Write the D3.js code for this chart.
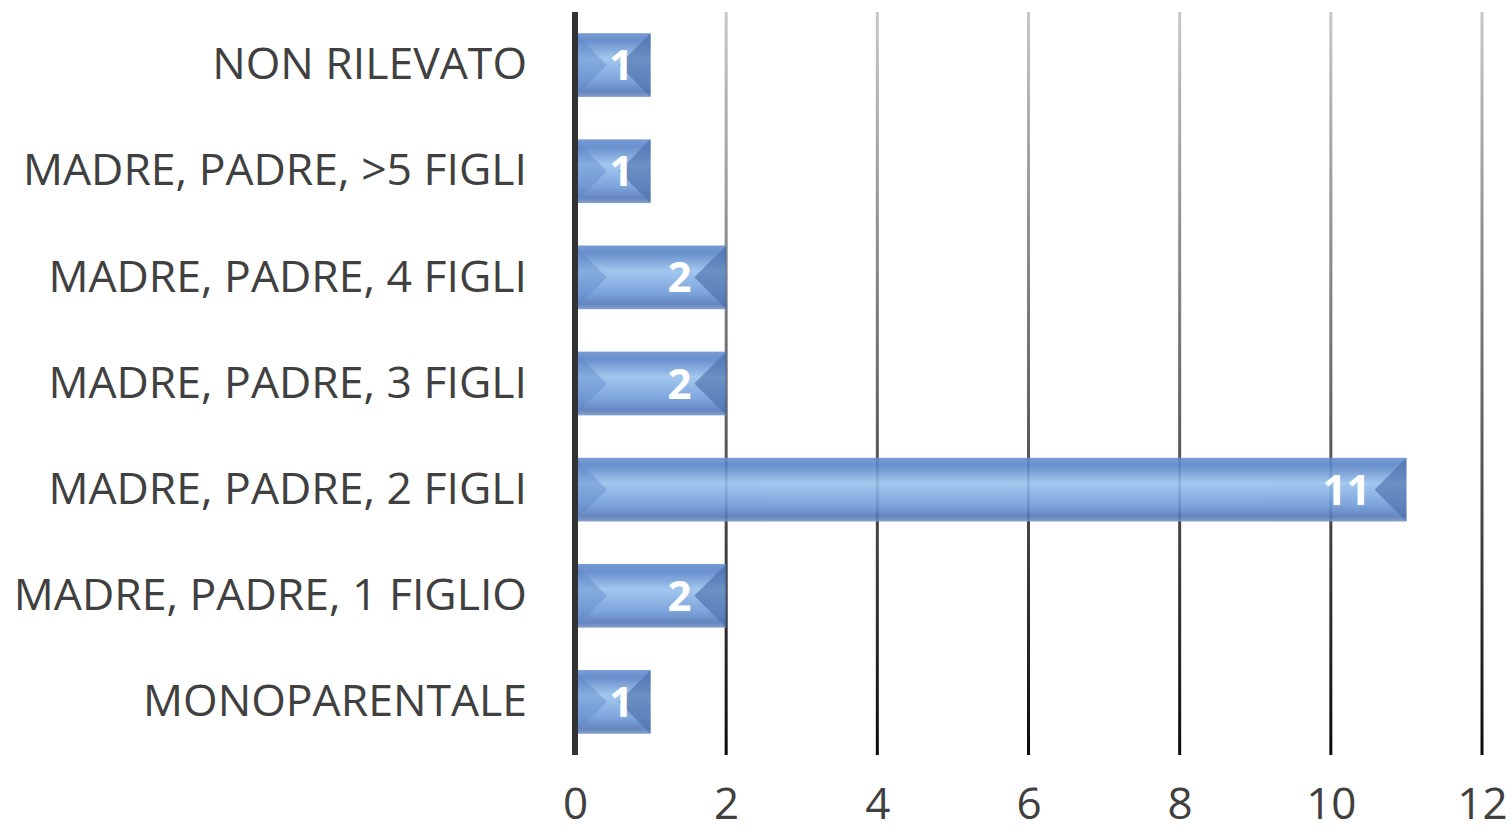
<!DOCTYPE html>
<html>
<head>
<meta charset="utf-8">
<script src="https://cdn.jsdelivr.net/npm/d3@7"></script>
<style>
  body { margin: 0; background: #fff; }
  svg { display: block; }
</style>
</head>
<body>
<svg id="chart" width="1511" height="836"></svg>
<script>
// categories, top to bottom
var categories = [
  'NON RILEVATO',
  'MADRE, PADRE, >5 FIGLI',
  'MADRE, PADRE, 4 FIGLI',
  'MADRE, PADRE, 3 FIGLI',
  'MADRE, PADRE, 2 FIGLI',
  'MADRE, PADRE, 1 FIGLIO',
  'MONOPARENTALE'
];
var values = [1, 1, 2, 2, 11, 2, 1];
var ticks = [0, 2, 4, 6, 8, 10, 12];

var svg = d3.select('#chart');
var font = '"Open Sans", "Liberation Sans", sans-serif';

var x = d3.scaleLinear().domain([0, 12]).range([575, 1482]);
var y = d3.scaleBand().domain(categories).range([12, 755])
  .paddingInner(0.4).paddingOuter(0.2);

var data = categories.map(function(c, i) { return {cat: c, value: values[i]}; });

// gradients
var defs = svg.append('defs');
var gg = defs.append('linearGradient').attr('id', 'gridGrad')
  .attr('gradientUnits', 'userSpaceOnUse')
  .attr('x1', 0).attr('y1', 12).attr('x2', 0).attr('y2', 755);
gg.append('stop').attr('offset', '0%').attr('stop-color', '#c8c8c8');
gg.append('stop').attr('offset', '100%').attr('stop-color', '#0a0a0a');

var bg = defs.append('linearGradient').attr('id', 'barGrad')
  .attr('x1', 0).attr('y1', 0).attr('x2', 0).attr('y2', 1);
bg.append('stop').attr('offset', '0%').attr('stop-color', '#6890d0');
bg.append('stop').attr('offset', '12%').attr('stop-color', '#5a84c8');
bg.append('stop').attr('offset', '40%').attr('stop-color', '#98c2ed');
bg.append('stop').attr('offset', '75%').attr('stop-color', '#6f9ad8');
bg.append('stop').attr('offset', '92%').attr('stop-color', '#5579b8');
bg.append('stop').attr('offset', '100%').attr('stop-color', '#7896c8');

// gridlines
svg.append('g').selectAll('line')
  .data(ticks.slice(1))
  .enter().append('line')
  .attr('x1', function(d) { return x(d); })
  .attr('x2', function(d) { return x(d); })
  .attr('y1', 12).attr('y2', 755)
  .attr('stroke', 'url(#gridGrad)')
  .attr('stroke-width', 3);

// bars
var bars = svg.append('g').selectAll('g')
  .data(data)
  .enter().append('g')
  .attr('opacity', 0.9);

bars.append('rect')
  .attr('x', x(0))
  .attr('y', function(d) { return y(d.cat); })
  .attr('width', function(d) { return x(d.value) - x(0); })
  .attr('height', y.bandwidth())
  .attr('fill', 'url(#barGrad)');

// bevel faces: left lighter, right darker
bars.append('path')
  .attr('fill', '#3b62a3')
  .attr('opacity', 0.65)
  .attr('d', function(d) {
    var x1 = x(d.value), y0 = y(d.cat), h = y.bandwidth();
    var b = Math.min(h / 2, (x1 - x(0)) / 2);
    return 'M' + x1 + ',' + y0 + 'L' + (x1 - b) + ',' + (y0 + h / 2) + 'L' + x1 + ',' + (y0 + h) + 'Z';
  });
bars.append('path')
  .attr('fill', '#4a78c0')
  .attr('opacity', 0.4)
  .attr('d', function(d) {
    var x0 = x(0), y0 = y(d.cat), h = y.bandwidth();
    var b = Math.min(h / 2, (x(d.value) - x0) / 2);
    return 'M' + x0 + ',' + y0 + 'L' + (x0 + b) + ',' + (y0 + h / 2) + 'L' + x0 + ',' + (y0 + h) + 'Z';
  });

// value labels
svg.append('g').selectAll('text')
  .data(data)
  .enter().append('text')
  .attr('x', function(d) { var w = x(d.value) - x(0); return x(d.value) - Math.min(36, w * 0.23); })
  .attr('y', function(d) { return y(d.cat) + y.bandwidth() / 2; })
  .attr('dy', '0.36em')
  .attr('text-anchor', 'end')
  .attr('fill', '#fff')
  .style('font-family', font)
  .style('font-weight', 'bold')
  .style('font-size', '42px')
  .text(function(d) { return d.value; });

// zero axis line
svg.append('line')
  .attr('x1', x(0)).attr('x2', x(0))
  .attr('y1', 12).attr('y2', 755)
  .attr('stroke', '#333')
  .attr('stroke-width', 6);

// category labels
var yAxis = svg.append('g')
  .attr('transform', 'translate(' + (x(0) - 48) + ',0)')
  .call(d3.axisLeft(y).tickSize(0).tickPadding(0));
yAxis.select('.domain').remove();
yAxis.selectAll('text')
  .attr('fill', '#404040')
  .style('font-family', font)
  .style('font-size', '44.5px');

// x tick labels
var xAxis = svg.append('g')
  .attr('transform', 'translate(0,788)')
  .call(d3.axisBottom(x).tickValues(ticks).tickSize(0).tickPadding(0));
xAxis.select('.domain').remove();
xAxis.selectAll('text')
  .attr('fill', '#404040')
  .style('font-family', font)
  .style('font-size', '44px');
</script>
</body>
</html>
